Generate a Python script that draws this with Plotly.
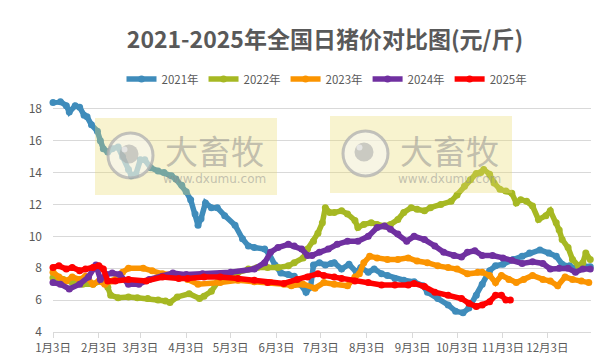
import pandas as pd
import plotly.graph_objects as go

# ---------------- data (day offset from 1月3日, price 元/斤) ----------------
days_2021 = [0,5,9,11,15,18,21,23,26,30,32,34,37,40,44,47,51,53,56,59,62,66,71,75,80,83,87,90,93,96,98,100,103,107,111,116,123,128,132,136,143,146,150,154,159,163,167,171,174,176,180,184,188,190,195,200,205,208,213,217,222,226,231,237,244,250,253,260,267,272,277,281,286,290,295,299,304,311,317,322,329,335,340,344,349,353,358,363]
price_2021 = [18.4,18.45,18.2,17.8,18.2,18.1,17.6,17.5,17.0,16.6,16.0,15.5,15.3,15.5,15.6,15.0,14.2,13.8,13.9,14.8,14.8,14.3,14.1,14.0,13.8,13.6,13.2,12.8,12.3,11.4,10.7,11.1,12.1,11.8,11.8,11.3,10.7,9.85,9.4,9.3,9.2,8.9,8.2,7.7,7.6,7.5,7.0,6.5,6.8,8.2,8.35,8.2,8.3,8.35,7.95,8.25,7.75,8.05,7.75,7.95,7.65,7.55,7.35,7.25,7.15,6.9,6.5,6.1,5.7,5.3,5.2,5.5,6.3,7.0,7.85,8.15,8.25,8.55,8.75,8.95,9.15,8.95,8.75,8.25,8.15,8.0,8.15,8.1]

days_2022 = [0,7,13,20,27,32,35,37,39,44,51,57,64,71,76,79,84,92,99,102,107,111,116,120,125,132,138,145,152,159,163,169,172,176,179,182,184,187,190,195,199,204,206,210,215,219,224,228,233,237,242,246,251,255,262,269,273,278,282,286,289,291,295,298,302,306,310,313,316,320,324,328,333,336,340,342,344,348,351,355,358,360,363]
price_2022 = [7.4,7.3,7.1,7.0,7.0,7.2,7.3,6.8,6.3,6.15,6.2,6.15,6.1,6.0,5.95,5.85,6.2,6.4,6.1,6.25,6.55,7.1,7.4,7.6,7.75,7.95,8.05,8.05,8.05,8.15,8.35,8.65,9.2,9.7,10.2,10.85,11.8,11.5,11.5,11.6,11.4,11.0,10.55,10.75,10.85,10.75,10.65,10.75,11.05,11.5,11.8,11.7,11.6,11.8,12.0,12.2,12.6,13.15,13.55,13.95,14.0,14.2,13.9,13.35,12.95,12.85,12.7,12.1,12.3,12.2,11.9,11.05,11.3,11.6,10.85,10.4,9.8,9.3,8.55,8.15,8.35,8.95,8.55]

days_2023 = [0,4,9,13,18,22,27,31,35,40,47,51,61,67,74,85,91,98,113,125,136,147,156,161,169,177,183,190,199,204,207,210,214,219,226,233,240,246,253,260,267,273,280,287,290,295,299,303,308,313,318,324,331,336,341,346,351,357,362]
price_2023 = [7.75,7.45,7.2,7.45,7.3,7.5,7.0,7.2,7.0,7.2,7.75,8.0,8.0,7.85,7.65,7.55,7.3,7.0,7.1,7.25,7.15,7.1,7.0,6.9,7.0,6.75,7.1,7.0,6.9,7.45,7.65,8.35,8.75,8.65,8.55,8.55,8.65,8.45,8.35,8.15,8.05,7.95,7.65,7.75,7.75,7.55,7.1,7.55,7.3,7.1,7.3,7.55,7.3,7.2,6.9,7.45,7.3,7.2,7.1]

days_2024 = [0,5,11,18,24,29,32,36,40,45,51,58,65,74,81,90,101,113,120,136,143,147,152,159,163,168,172,175,180,186,192,199,206,213,219,224,228,233,239,244,251,258,264,271,276,280,285,290,297,304,310,317,324,331,336,342,348,353,358,363]
price_2024 = [7.1,7.0,6.7,7.0,7.45,8.2,7.3,7.6,7.7,7.6,7.0,7.0,7.3,7.5,7.7,7.6,7.65,7.65,7.75,7.95,8.35,9.0,9.3,9.5,9.4,9.2,8.8,8.8,9.0,9.2,9.5,9.7,9.7,10.0,10.55,10.65,10.45,10.15,9.7,10.0,9.8,9.4,9.0,8.8,8.7,9.0,9.1,8.8,8.8,8.65,8.5,8.3,8.4,8.3,7.95,8.0,8.0,7.75,7.95,7.95]

days_2025 = [0,4,9,13,18,22,27,31,34,37,42,51,63,74,85,91,102,113,125,136,145,156,165,172,179,183,190,195,204,213,222,231,240,244,251,258,267,276,281,286,290,295,299,303,306,309]
price_2025 = [8.05,8.15,7.95,8.05,7.85,7.95,8.05,8.15,7.95,7.2,7.2,7.3,7.2,7.45,7.35,7.35,7.45,7.45,7.35,7.25,7.1,7.05,7.3,7.45,7.65,7.55,7.45,7.35,7.2,7.1,6.95,6.95,6.95,7.05,6.85,6.5,6.3,6.1,5.8,5.6,5.7,5.9,6.3,6.3,6.0,6.0]

series_names = ["2021年", "2022年", "2023年", "2024年", "2025年"]
series_colors = ["#3F8CBB", "#A6B823", "#FB9400", "#7030A0", "#FF0000"]

tick_dates = ["2023-01-03", "2023-02-03", "2023-03-03", "2023-04-03", "2023-05-03", "2023-06-03",
              "2023-07-03", "2023-08-03", "2023-09-03", "2023-10-03", "2023-11-03", "2023-12-03"]
tick_labels = ["1月3日", "2月3日", "3月3日", "4月3日", "5月3日", "6月3日",
               "7月3日", "8月3日", "9月3日", "10月3日", "11月3日", "12月3日"]

title_text = "2021-2025年全国日猪价对比图(元/斤)"

# ---------------- figure ----------------
base = pd.Timestamp("2023-01-03")
all_days = [days_2021, days_2022, days_2023, days_2024, days_2025]
all_prices = [price_2021, price_2022, price_2023, price_2024, price_2025]

FONT = "Noto Sans CJK SC, Microsoft YaHei, sans-serif"
GREY = "#595959"

fig = go.Figure()
for name, col, dd, pp in zip(series_names, series_colors, all_days, all_prices):
    assert len(dd) == len(pp)
    xs = base + pd.to_timedelta(dd, unit="D")
    fig.add_trace(go.Scatter(
        x=xs, y=pp, name=name, mode="lines+markers",
        line=dict(color=col, width=5.5),
        marker=dict(color=col, size=7),
        cliponaxis=False,
    ))

W, H = 612, 361
L, R, T, B = 45, 29, 92, 37
pw, ph = W - L - R, H - T - B


def px(x):
    return (x - L) / pw


def py(y):
    return (H - B - y) / ph


shapes = []
annotations = []
for (bx0, bx1, by0, by1) in [(87, 269, 110, 187), (322, 504, 108, 185)]:
    cx = (bx0 + bx1) / 2
    cy = (by0 + by1) / 2
    shapes.append(dict(type="rect", xref="paper", yref="paper", layer="above",
                       x0=px(bx0), x1=px(bx1), y0=py(by1), y1=py(by0),
                       fillcolor="rgba(235,220,110,0.33)", line=dict(width=0)))
    lx, ly, r = cx - 55.5, cy - 1.0, 22.5
    shapes.append(dict(type="circle", xref="paper", yref="paper", layer="above",
                       x0=px(lx - r), x1=px(lx + r), y0=py(ly + r), y1=py(ly - r),
                       fillcolor="rgba(245,245,245,0.55)",
                       line=dict(color="rgba(175,175,175,0.75)", width=3)))
    r2 = 9.5
    shapes.append(dict(type="circle", xref="paper", yref="paper", layer="above",
                       x0=px(lx - 1.5 - r2), x1=px(lx - 1.5 + r2), y0=py(ly - 1.5 + r2), y1=py(ly - 1.5 - r2),
                       fillcolor="rgba(165,165,165,0.55)", line=dict(width=0)))
    r3 = 3
    shapes.append(dict(type="circle", xref="paper", yref="paper", layer="above",
                       x0=px(lx - 6 - r3), x1=px(lx - 6 + r3), y0=py(ly - 6 + r3), y1=py(ly - 6 - r3),
                       fillcolor="rgba(235,235,235,0.8)", line=dict(width=0)))
    annotations.append(dict(xref="paper", yref="paper", x=px(cx + 28.5), y=py(142),
                            text="大畜牧", showarrow=False, xanchor="center", yanchor="middle",
                            font=dict(family=FONT, size=33, color="rgba(140,140,140,0.52)")))
    annotations.append(dict(xref="paper", yref="paper", x=px(cx + 28.5), y=py(170.5),
                            text="www.dxumu.com", showarrow=False, xanchor="center", yanchor="middle",
                            font=dict(family="DejaVu Sans", size=12, color="rgba(140,140,140,0.5)")))

fig.update_layout(
    width=W, height=H,
    margin=dict(l=L, r=R, t=T, b=B, autoexpand=False),
    paper_bgcolor="white", plot_bgcolor="white",
    font=dict(family=FONT, color=GREY, size=12),
    title=dict(text="<b>" + title_text + "</b>", x=317 / W, xanchor="center",
               y=1 - 32 / H, yanchor="middle",
               font=dict(family=FONT, size=23, color=GREY)),
    legend=dict(orientation="h", x=px(319), xanchor="center", y=py(71), yanchor="middle",
                font=dict(family=FONT, size=11.5, color=GREY), itemwidth=30,
                bgcolor="rgba(0,0,0,0)"),
    showlegend=True,
    shapes=shapes,
    annotations=annotations,
    hovermode=False,
)

fig.update_xaxes(
    type="date",
    range=[base, base + pd.Timedelta(days=363.5)],
    tickvals=tick_dates, ticktext=tick_labels, tickangle=0,
    showgrid=False, showline=True, linecolor="#D9D9D9", linewidth=1,
    ticks="outside", ticklen=5, tickcolor="#D9D9D9",
    tickfont=dict(family=FONT, size=11.5, color=GREY),
    zeroline=False, fixedrange=True,
)
fig.update_yaxes(
    range=[4, 4 + ph / 15.94], tick0=4, dtick=2,
    showgrid=True, gridcolor="#D9D9D9", gridwidth=1,
    showline=False, zeroline=False, ticks="",
    tickfont=dict(family=FONT, size=12, color=GREY),
    ticklabelstandoff=10, fixedrange=True,
)

fig.write_html("out.html")
